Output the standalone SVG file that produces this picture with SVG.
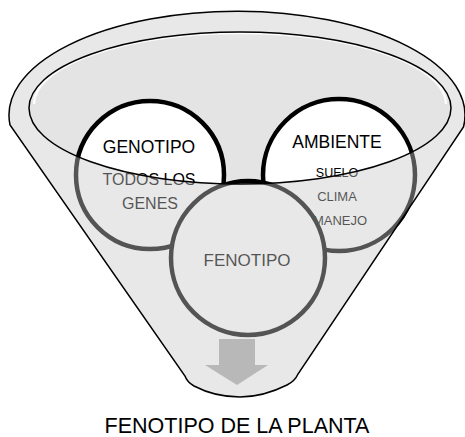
<svg xmlns="http://www.w3.org/2000/svg" width="465" height="437" viewBox="0 0 465 437">
<style>
  text { font-family: "Liberation Sans", Arial, sans-serif; text-anchor: middle; fill: #000; }
  .circ { fill: #fff; stroke: #000; stroke-width: 4.5; }
  .outline { fill: none; stroke: #000; stroke-width: 1.5; }
</style>
<defs>
  <path id="funnelPath" d="M 10 125 A 228 104 0 1 1 463.5 127 L 298 374 Q 295 381 287 385 Q 263 397 240 397 Q 215 397 194 386 Q 187 382 185 376 Z"/>
</defs>
<rect width="465" height="437" fill="#fff"/>
<g id="funnel">
  <use href="#funnelPath" fill="#fff"/>
  <ellipse cx="240" cy="108" rx="211" ry="76" fill="#e4e4e4"/>
  <path d="M 34 104 A 206 71 0 0 1 446 104" fill="none" stroke="#fff" stroke-width="2.5" opacity="0.9"/>
</g>
<g id="genotipo">
  <circle class="circ" cx="150" cy="175" r="74"/>
  <text x="149" y="153" font-size="17.5">GENOTIPO</text>
  <text x="149" y="185" font-size="16">TODOS LOS</text>
  <text x="150" y="209" font-size="16">GENES</text>
</g>
<g id="ambiente">
  <circle class="circ" cx="339" cy="175" r="76"/>
  <text x="337" y="148" font-size="17.5">AMBIENTE</text>
  <text x="337" y="177" font-size="12.5">SUELO</text>
  <text x="337" y="201" font-size="13">CLIMA</text>
  <text x="340" y="225" font-size="13">MANEJO</text>
</g>
<g id="fenotipo">
  <circle class="circ" cx="248" cy="258" r="77"/>
  <text x="247" y="266" font-size="17">FENOTIPO</text>
</g>
<g id="funnel-front">
  <path d="M 10 125 A 228 104 0 1 1 463.5 127 L 298 374 Q 295 381 287 385 Q 263 397 240 397 Q 215 397 194 386 Q 187 382 185 376 Z M 29 108 A 211 76 0 1 0 451 108 A 211 76 0 1 0 29 108 Z" fill="rgb(200,200,200)" fill-opacity="0.42" fill-rule="evenodd"/>
  <use href="#funnelPath" class="outline"/>
  <ellipse class="outline" cx="240" cy="108" rx="211" ry="76"/>
</g>
<g id="connectors">
  <polygon points="219,339 255,339 255,365 268,365 237,385 205,365 219,365" fill="#b8b8b8"/>
</g>
<g id="caption">
  <text x="237" y="433" font-size="21.5">FENOTIPO DE LA PLANTA</text>
</g>
</svg>
